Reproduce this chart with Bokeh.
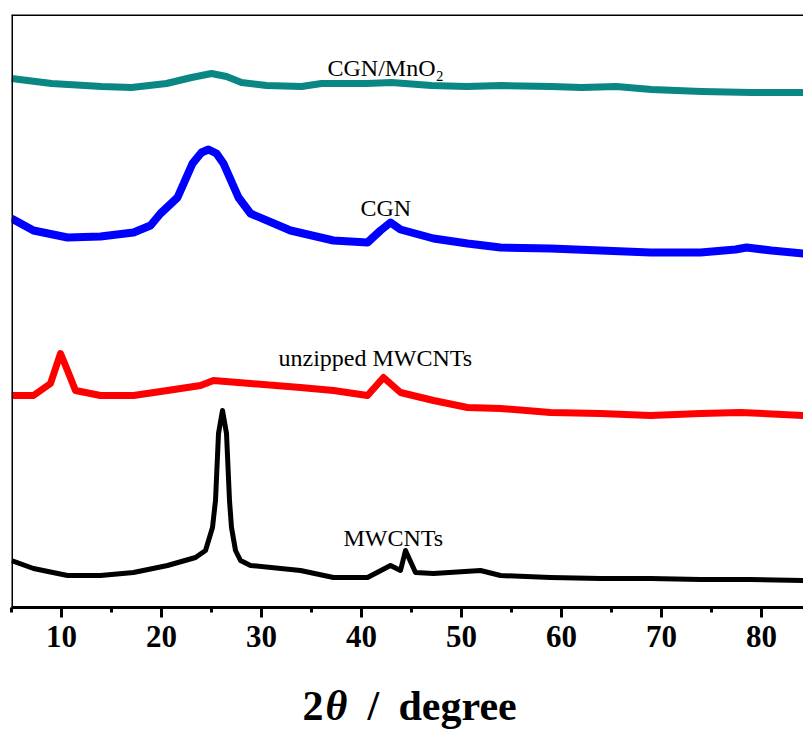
from bokeh.plotting import figure
from bokeh.models import Range1d, FixedTicker, Span, Label
from bokeh.layouts import column
from bokeh.core.properties import value
from bokeh.embed import file_html
from bokeh.resources import INLINE

# 2theta (degree) and offset intensity (a.u.)
teal_x = [5, 9, 14, 17, 20.5, 23, 25, 26.5, 28, 30.5, 34, 36, 40.5, 43, 47, 50.5, 54, 59, 62, 65.5, 69, 74, 79, 84.2]
teal_y = [529, 524, 521, 520, 524, 530, 534, 531, 525, 522, 521, 524, 524, 525, 522, 521, 522, 521, 520, 521, 518, 516, 515, 515]

blue_x = [5, 7.2, 10.6, 13.9, 17.2, 18.9, 19.9, 21.6, 23.1, 24.0, 24.7, 25.5, 26.2, 27.7, 28.9, 32.9, 37.2, 40.6,
          41.9, 42.9, 43.9, 47.2, 50.6, 53.9, 58.9, 63.9, 68.9, 73.9, 77.4, 78.5, 81, 84.2]
blue_y = [389, 377, 370, 371, 375, 382, 394, 410, 444, 455, 458, 454, 444, 410, 394, 377, 367, 365,
          377, 385, 378, 369, 364, 360, 359, 357, 355, 355, 358, 360, 357, 354]

red_x = [5, 7.2, 8.9, 9.9, 10.6, 11.4, 13.9, 17.2, 20.6, 23.9, 25.2, 28.9, 33.9, 37.2, 40.6, 42.2, 43.9,
         47.2, 50.6, 53.9, 58.9, 63.9, 68.9, 73.9, 77.9, 84.2]
red_y = [212, 212, 224, 254, 237, 217, 212, 212, 217, 222, 227, 224, 220, 217, 212, 230, 215,
         207, 200, 199, 195, 194, 192, 194, 195, 192]

black_x = [5, 7.2, 10.6, 13.9, 17.2, 20.6, 23.4, 24.4, 25.1, 25.4, 25.7, 26.1, 26.5, 26.8, 27.0, 27.4, 27.9,
           28.9, 33.9, 37.2, 40.6, 42.9, 43.9, 44.4, 45.4, 47.2, 51.9, 53.9, 58.9, 63.9, 68.9, 73.9, 78.9, 84.2]
black_y = [47, 39, 32, 32, 35, 42, 50, 57, 80, 107, 174, 197, 174, 107, 80, 57, 47,
           42, 37, 30, 30, 42, 37, 57, 35, 34, 37, 32, 30, 29, 29, 28, 28, 27]

series_names = ["CGN/MnO\u2082", "CGN", "unzipped MWCNTs", "MWCNTs"]
series_colors = ["#0a8683", "#0000ff", "#ff0000", "#000000"]
name_x = [36.6, 39.9, 31.7, 38.2]
name_y = [540, 400, 250, 70]

major_ticks = [10, 20, 30, 40, 50, 60, 70, 80]
minor_ticks = [5, 15, 25, 35, 45, 55, 65, 75, 85]

title_parts = ["2", "\u03b8", "/", "degree"]
title_x = [34.1, 36.4, 40.6, 43.7]
title_styles = ["bold", "bold italic", "bold", "bold"]

p = figure(width=803, height=670, output_backend="svg", toolbar_location=None,
           x_range=Range1d(5, 84.2), y_range=Range1d(0, 593), y_axis_location=None,
           min_border_left=11, min_border_right=0, min_border_top=14, min_border_bottom=63)
p.outline_line_color = None
p.grid.visible = False
p.background_fill_color = "white"
p.border_fill_color = "white"

xs = [teal_x, blue_x, red_x, black_x]
ys = [teal_y, blue_y, red_y, black_y]
widths = [7, 8, 7, 5]
for x, y, c, w in zip(xs, ys, series_colors, widths):
    p.line(x, y, line_color=c, line_width=w, line_join="round")

for t, x, y in zip(series_names, name_x, name_y):
    p.add_layout(Label(x=x, y=y, text=t, text_font="Liberation Serif", text_font_size="24px",
                       text_color="black", text_align="left", text_baseline="alphabetic"))

ax = p.xaxis[0]
ax.ticker = FixedTicker(ticks=major_ticks, minor_ticks=minor_ticks)
ax.axis_line_width = 3
ax.axis_line_color = "black"
ax.major_tick_line_width = 3
ax.minor_tick_line_width = 3
ax.major_tick_in = 0
ax.major_tick_out = 10
ax.minor_tick_in = 0
ax.minor_tick_out = 5
ax.major_label_text_font = "Liberation Serif"
ax.major_label_text_font_style = "bold"
ax.major_label_text_font_size = "31px"
ax.major_label_text_color = "black"
ax.major_label_standoff = 8

p.add_layout(Span(location=593, dimension="width", line_color="black", line_width=3))
p.add_layout(Span(location=5, dimension="height", line_color="black", line_width=3))

# axis title drawn in a strip below the plot
q = figure(width=803, height=59, output_backend="svg", toolbar_location=None,
           x_range=p.x_range, y_range=Range1d(0, 59), x_axis_location=None, y_axis_location=None,
           min_border_left=11, min_border_right=0, min_border_top=0, min_border_bottom=0)
q.outline_line_color = None
q.grid.visible = False
q.border_fill_color = "white"
for t, x, s in zip(title_parts, title_x, title_styles):
    q.text(x=[x], y=[24], text=[t], text_font=value("Liberation Serif"), text_font_size="42px",
           text_font_style=value(s), text_color="black", text_align="left", text_baseline="alphabetic")

layout = column(p, q, spacing=0)
open("out.html", "w").write(file_html(layout, INLINE))
